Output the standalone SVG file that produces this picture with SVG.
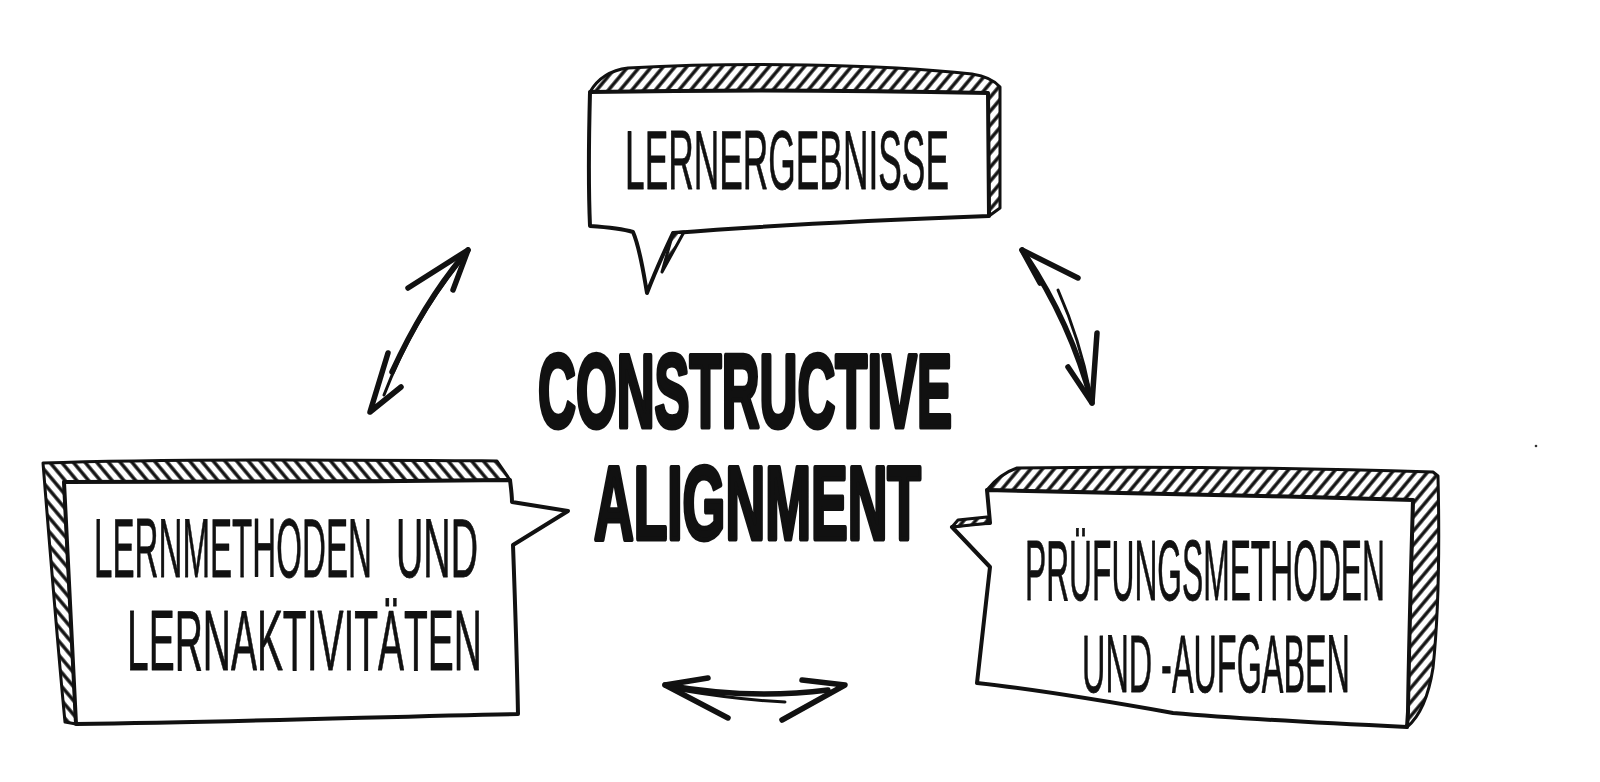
<svg xmlns="http://www.w3.org/2000/svg" width="1600" height="782" viewBox="0 0 1600 782">
<defs>
<pattern id="hs" width="9" height="9" patternUnits="userSpaceOnUse" patternTransform="rotate(40)"><rect width="9" height="9" fill="#fff"/><line x1="2" y1="0" x2="2" y2="9" stroke="#111" stroke-width="3.4"/></pattern>
<pattern id="hb" width="9" height="9" patternUnits="userSpaceOnUse" patternTransform="rotate(-40)"><rect width="9" height="9" fill="#fff"/><line x1="2" y1="0" x2="2" y2="9" stroke="#111" stroke-width="3.4"/></pattern>
</defs>
<style>
.band{stroke:#111;stroke-width:3;stroke-linejoin:round}
.face{fill:#fff;stroke:#111;stroke-width:4;stroke-linejoin:round}
.lbl{font-family:'Liberation Sans',Arial,sans-serif;fill:#111;stroke:#111;stroke-width:0.8;stroke-linejoin:round}
.ttl{font-family:'Liberation Sans',Arial,sans-serif;font-weight:bold;fill:#111;stroke:#111;stroke-width:5;stroke-linejoin:round}
.arr{fill:none;stroke:#111;stroke-width:5.5;stroke-linecap:round;stroke-linejoin:round}
.arr2{fill:none;stroke:#111;stroke-width:3;stroke-linecap:round}
</style>
<rect width="1600" height="782" fill="#fff"/>

<g id="connectors">
<g id="arrow-left">
<path class="arr" d="M468,250 Q425,300 392,372"/>
<path class="arr2" d="M460,262 Q412,322 384,395"/>
<path class="arr" d="M408,288 L468,250 L453,290"/>
<path class="arr" d="M388,353 L370,412 L401,387"/>
</g>
<g id="arrow-right">
<path class="arr" d="M1022,250 Q1070,320 1092,403"/>
<path class="arr2" d="M1058,290 Q1080,340 1090,392"/>
<path class="arr" d="M1078,278 L1022,250 L1040,283"/>
<path class="arr" d="M1097,333 L1092,403 L1068,367"/>
</g>
<g id="arrow-bottom">
<path class="arr" d="M665,685 Q750,700 828,690"/>
<path class="arr2" d="M680,690 Q740,700 785,702"/>
<path class="arr" d="M708,678 L665,685 L728,718"/>
<path class="arr" d="M802,680 L845,685 L782,720"/>
</g>
</g>

<g id="node-lernergebnisse">
<path class="band" fill="url(#hs)" d="M590,92 C598,78 612,70 628,68 C740,62 880,64 972,74 C985,76 994,80 1000,87 L1000,208 L989,216 L988,93 C850,90 700,90 590,92 Z"/>
<path class="face" d="M590,92 C700,90 850,90 988,93 L989,216 C880,220 760,226 673,233 C665,250 655,272 647,293 C643,270 640,248 633,232 C620,228 605,227 590,226 C588,180 589,130 590,92 Z"/>
<path class="band" fill="url(#hs)" d="M673,233 L684,232 L662,272 Z"/>
<text class="lbl" transform="translate(625,189) scale(0.4258,1)" font-size="83">LERNERGEBNISSE</text>
</g>

<g id="node-lernmethoden">
<path class="band" fill="url(#hb)" d="M43,463 C180,458 380,460 497,461 L510,480 C360,482 200,482 64,482 C68,560 72,640 76,724 L65,722 C58,650 50,550 43,463 Z"/>
<path class="face" d="M64,482 C200,482 360,482 510,480 C511,488 512,495 512,502 L568,511 L513,545 C515,600 517,660 518,714 C400,716 250,722 76,724 C72,640 68,560 64,482 Z"/>
<text class="lbl" transform="translate(94,577) scale(0.3945,1)" font-size="84">LERNMETHODEN</text>
<text class="lbl" transform="translate(396,577) scale(0.4508,1)" font-size="84">UND</text>
<text class="lbl" transform="translate(127,670) scale(0.453,1)" font-size="86">LERNAKTIVITÄTEN</text>
</g>

<g id="node-pruefungsmethoden">
<path class="band" fill="url(#hs)" d="M987,490 C995,480 1005,472 1017,468 C1150,466 1300,468 1433,472 L1438,476 C1440,560 1437,630 1433,668 C1428,700 1418,718 1407,727 L1408,712 C1409,640 1411,570 1413,500 C1270,496 1120,492 987,490 Z"/>
<path class="face" d="M987,490 C1120,492 1270,496 1413,500 C1411,570 1409,640 1408,712 L1407,727 C1300,722 1230,718 1173,713 C1100,700 1040,690 977,683 C982,640 986,600 990,567 L952,527 C965,524 978,523 990,523 C989,512 988,500 987,490 Z"/>
<path class="band" fill="url(#hs)" d="M958,520 L987,517 L990,523 L952,527 Z"/>
<text class="lbl" transform="translate(1025,600) scale(0.3694,1)" font-size="86">PRÜFUNGSMETHODEN</text>
<text class="lbl" transform="translate(1082,692) scale(0.3997,1)" font-size="81">UND -AUFGABEN</text>
</g>

<g id="node-title">
<text class="ttl" transform="translate(538,427) scale(0.5046,1)" font-size="104">CONSTRUCTIVE</text>
<text class="ttl" transform="translate(594,539) scale(0.529,1)" font-size="104">ALIGNMENT</text>
</g>

<circle cx="1536" cy="446" r="1.3" fill="#333"/>
</svg>
